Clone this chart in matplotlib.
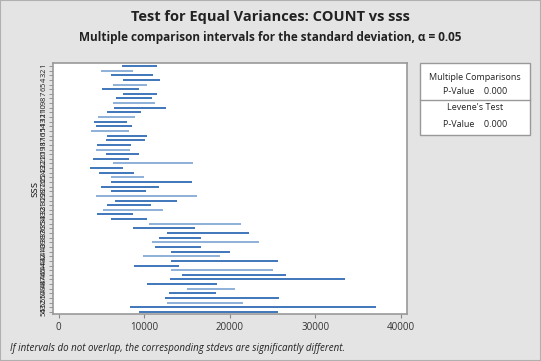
import matplotlib
matplotlib.use("Agg")
import matplotlib.pyplot as plt
from matplotlib.patches import Rectangle
from matplotlib.lines import Line2D

plt.rcParams['font.family'] = ['Open Sans', 'DejaVu Sans']

groups = [str(i) for i in range(1, 55)]
lower = [7400, 4950, 6150, 7480, 6390, 5060, 7480, 6700, 6390, 6470,
         5650, 4560, 4090, 4400, 3810, 5690, 5530, 4440, 4330, 5530,
         4050, 6320, 3660, 4750, 6080, 6080, 4990, 6150, 4360, 6550,
         5690, 5220, 4440, 6150, 10600, 8730, 12700, 11770, 10910, 11230,
         13100, 9820, 13170, 8810, 13100, 14420, 13020, 10370, 14970, 12870,
         12470, 12700, 8340, 9360]
upper = [11460, 8730, 10990, 11850, 10370, 9360, 11530, 10910, 11230, 12550,
         9590, 8890, 7950, 8570, 8260, 10370, 10130, 8490, 8340, 9360,
         8190, 15750, 7490, 8810, 9980, 15590, 11700, 10210, 16140, 13870,
         10760, 12230, 8650, 10370, 21290, 15900, 22290, 16680, 23460, 16680,
         20040, 18870, 25650, 14110, 25100, 26580, 33450, 18550, 20580, 18400,
         25800, 21590, 37110, 25650]
x_ticks = [0, 10000, 20000, 30000, 40000]

W, H = 541, 361
fig = plt.figure(figsize=(W / 100, H / 100), dpi=100)
fig.patch.set_facecolor('#e4e4e4')

ax = fig.add_axes([53.3 / W, 1 - 314 / H, (407 - 53.3) / W, (314 - 63.3) / H])
ax.set_facecolor('white')

dark = '#1f5fae'
light = '#7aa3d2'
pattern = [dark, light, dark, dark, light, dark, dark, dark, light, dark]
for i, (lo, hi) in enumerate(zip(lower, upper)):
    y = i + 1
    c = pattern[i % len(pattern)]
    ax.plot([lo, hi], [y, y], color=c, lw=1.2, solid_capstyle='butt')

ax.set_xlim(-630, 40740)
ax.set_ylim(54.45, 0.42)
ax.set_xticks(x_ticks)
ax.set_xticklabels([str(v) for v in x_ticks], fontsize=7, color='#333333')
ax.set_yticks(range(1, 55))
ax.set_yticklabels(groups, fontsize=5.5, rotation=90, va='center', color='#222222')
ax.tick_params(axis='y', length=3, pad=1, width=0.6, colors='#888888', labelcolor='#222222')
ax.tick_params(axis='x', length=3, pad=3, width=0.8, colors='#888888', labelcolor='#333333')
for s in ax.spines.values():
    s.set_color('#999999')
    s.set_linewidth(1.2)
ax.set_ylabel('sss', fontsize=8, color='#222222', labelpad=0)

fig.text(0.5, 1 - 17 / H, 'Test for Equal Variances: COUNT vs sss', ha='center', va='center',
         fontsize=10.5, fontweight='bold', color='#222222')
fig.text(0.5, 1 - 37 / H, 'Multiple comparison intervals for the standard deviation, \u03b1 = 0.05',
         ha='center', va='center', fontsize=8.5, fontweight='bold', color='#222222')
fig.text(10 / W, 1 - 348 / H,
         'If intervals do not overlap, the corresponding stdevs are significantly different.',
         ha='left', va='center', fontsize=7, style='italic', color='#222222')

# legend box
bx0, bx1, by0, by1 = 420, 530, 63, 135
fig.patches.append(Rectangle((bx0 / W, 1 - by1 / H), (bx1 - bx0) / W, (by1 - by0) / H,
                             transform=fig.transFigure, facecolor='white', edgecolor='#999999', lw=1))
fig.lines.append(Line2D([bx0 / W, bx1 / W], [1 - 99.5 / H, 1 - 99.5 / H], transform=fig.transFigure,
                        color='#999999', lw=1))
cx = (bx0 + bx1) / 2 / W
fig.text(cx, 1 - 77 / H, 'Multiple Comparisons', ha='center', va='center', fontsize=6.5, color='#222222')
fig.text(cx, 1 - 92 / H, 'P-Value    0.000', ha='center', va='center', fontsize=6.5, color='#222222')
fig.text(cx, 1 - 108 / H, "Levene's Test", ha='center', va='center', fontsize=6.5, color='#222222')
fig.text(cx, 1 - 124 / H, 'P-Value    0.000', ha='center', va='center', fontsize=6.5, color='#222222')

fig.patches.append(Rectangle((0, 0), 1, 1, transform=fig.transFigure, facecolor='none',
                             edgecolor='#b0b0b0', lw=1.5))

fig.savefig('out.png', dpi=100, facecolor=fig.get_facecolor())
